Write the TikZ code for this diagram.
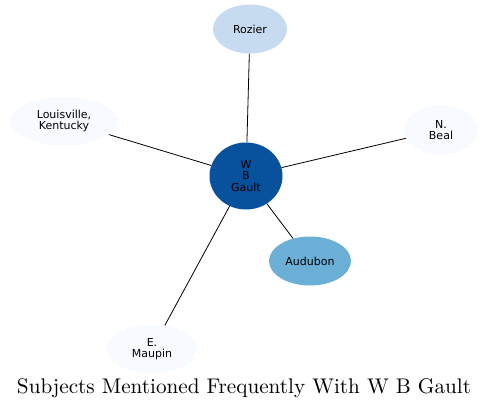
\documentclass[tikz,border=0pt]{standalone}
\usepackage{fontspec}
\usepackage{xcolor}
\usetikzlibrary{positioning, shapes.geometric}
\newfontfamily\labelfont{DejaVu Sans}

\begin{document}
\begin{tikzpicture}[x=1pt, y=-1pt]
    \definecolor{subject-pale}{HTML}{F7FBFF}
    \definecolor{subject-light}{HTML}{C6DBEF}
    \definecolor{subject-mid}{HTML}{6BAED6}
    \definecolor{subject-dark}{HTML}{08519C}
    \tikzset{
        subject/.style={ellipse, inner sep=0pt, align=center,
            minimum height=49pt,
            font=\labelfont\fontsize{11}{11.7}\selectfont},
        link/.style={draw=black, line width=0.8pt}
    }

    \useasboundingbox (0,0) rectangle (488,410);

    % CENTRE NODE
    \node [subject, fill=subject-dark, minimum width=73pt, minimum height=67pt]
        (gault) at (246,176) {W\\B\\Gault};

    % SURROUNDING SUBJECTS
    \node [subject, fill=subject-light, minimum width=74pt]
        (rozier) at (250,29) {Rozier};
    \node [subject, fill=subject-pale, minimum width=107pt]
        (louisville) at (64,121) {Louisville,\\Kentucky};
    \node [subject, fill=subject-pale, minimum width=74pt]
        (beal) at (441,130) {N.\\Beal};
    \node [subject, fill=subject-mid, minimum width=82pt]
        (audubon) at (310,261) {Audubon};
    \node [subject, fill=subject-pale, minimum width=90pt]
        (maupin) at (152,349) {E.\\Maupin};

    % Links from the centre node
    \foreach \other in {rozier, louisville, beal, audubon, maupin}
        \draw[link] (gault) -- (\other);

    % TITLE
    \node (title) at (244,388)
        {\resizebox{454pt}{!}{Subjects Mentioned Frequently With W B Gault}};
\end{tikzpicture}
\end{document}
